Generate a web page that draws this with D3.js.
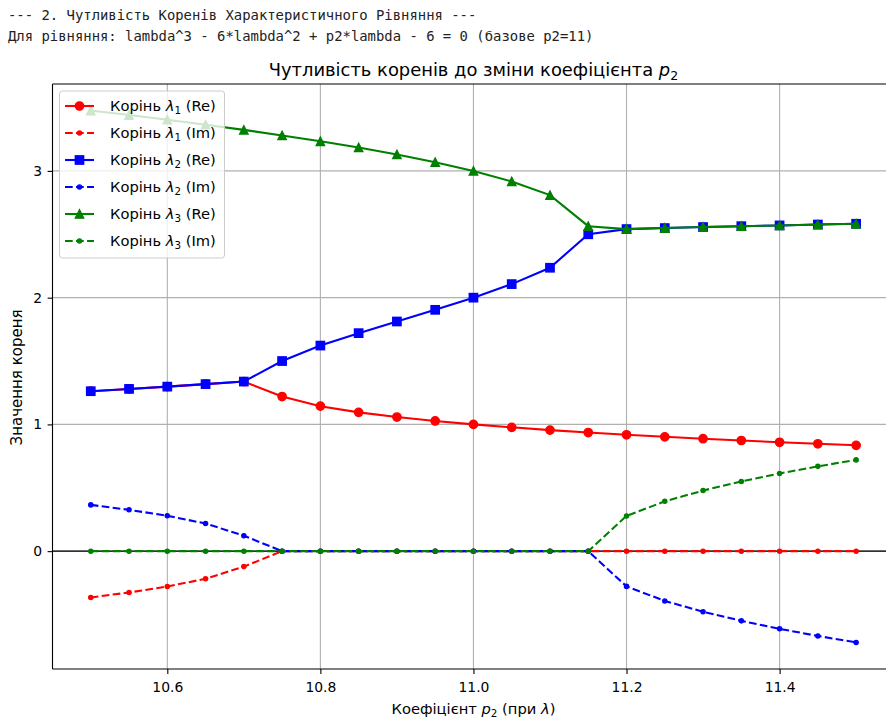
<!DOCTYPE html>
<html>
<head>
<meta charset="utf-8">
<script src="https://cdn.jsdelivr.net/npm/d3@7"></script>
<style>
body { margin: 0; background: #fff; }
svg { display: block; font-family: "DejaVu Sans", sans-serif; }
</style>
</head>
<body>
<div id="canvas-body"></div>
<script>
// values of p2 (x axis)
var p2 = [10.5, 10.55, 10.6, 10.65, 10.7, 10.75, 10.8, 10.85, 10.9, 10.95, 11.0,
          11.05, 11.1, 11.15, 11.2, 11.25, 11.3, 11.35, 11.4, 11.45, 11.5];

// root lambda_1
var re1 = [1.262, 1.280, 1.298, 1.318, 1.338, 1.22, 1.144, 1.095, 1.058, 1.027, 1.0,
           0.977, 0.955, 0.936, 0.918, 0.902, 0.887, 0.873, 0.859, 0.847, 0.835];
var im1 = [-0.365, -0.326, -0.279, -0.218, -0.122, 0, 0, 0, 0, 0, 0,
           0, 0, 0, 0, 0, 0, 0, 0, 0, 0];

// root lambda_2
var re2 = [1.262, 1.280, 1.298, 1.318, 1.338, 1.5, 1.622, 1.72, 1.812, 1.904, 2.0,
           2.107, 2.236, 2.50, 2.541, 2.549, 2.557, 2.564, 2.570, 2.577, 2.583];
var im2 = [0.365, 0.326, 0.279, 0.218, 0.122, 0, 0, 0, 0, 0, 0,
           0, 0, 0, -0.278, -0.393, -0.478, -0.550, -0.613, -0.669, -0.720];

// root lambda_3
var re3 = [3.476, 3.441, 3.404, 3.365, 3.324, 3.28, 3.234, 3.185, 3.130, 3.069, 3.0,
           2.917, 2.809, 2.564, 2.541, 2.549, 2.557, 2.564, 2.570, 2.577, 2.583];
var im3 = [0, 0, 0, 0, 0, 0, 0, 0, 0, 0, 0,
           0, 0, 0, 0.278, 0.393, 0.478, 0.550, 0.613, 0.669, 0.720];

// tick labels
var xTicks = [10.6, 10.8, 11.0, 11.2, 11.4];
var yTicks = [0, 1, 2, 3];

// series in plotting order
var series = [
    {vals: re1, color: "#ff0000", marker: "o", dashed: false, sub: "1", part: "Re"},
    {vals: im1, color: "#ff0000", marker: ".", dashed: true,  sub: "1", part: "Im"},
    {vals: re2, color: "#0000ff", marker: "s", dashed: false, sub: "2", part: "Re"},
    {vals: im2, color: "#0000ff", marker: ".", dashed: true,  sub: "2", part: "Im"},
    {vals: re3, color: "#008000", marker: "^", dashed: false, sub: "3", part: "Re"},
    {vals: im3, color: "#008000", marker: ".", dashed: true,  sub: "3", part: "Im"}
];

const W = 886, H = 720;
const axL = 52.5, axR = 894.4, axT = 84, axB = 669;

var svg = d3.select("#canvas-body").append("svg")
    .attr("width", W).attr("height", H);

// printed header lines
var header = ["--- 2. Чутливість Коренів Характеристичного Рівняння ---",
              "Для рівняння: lambda^3 - 6*lambda^2 + p2*lambda - 6 = 0 (базове p2=11)"];
svg.selectAll(".hdr").data(header).enter().append("text")
    .attr("x", 8)
    .attr("y", function(d, i){ return 20 + i * 21; })
    .attr("font-family", "'DejaVu Sans Mono', monospace")
    .attr("font-size", "13.9px")
    .attr("fill", "#222")
    .style("white-space", "pre")
    .text(function(d){ return d; });

// scales (matplotlib-like 5% margins)
var allVals = [].concat(re1, im1, re2, im2, re3, im3);
var ymin = d3.min(allVals), ymax = d3.max(allVals);
var ypad = (ymax - ymin) * 0.05;
var x = d3.scaleLinear().domain([10.45, 11.55]).range([axL, axR]);
var y = d3.scaleLinear().domain([ymin - ypad, ymax + ypad]).range([axB, axT]);

// clip to axes
svg.append("clipPath").attr("id", "clip")
    .append("rect").attr("x", axL).attr("y", axT)
    .attr("width", axR - axL).attr("height", axB - axT);

// grid
var grid = svg.append("g");
grid.selectAll(".gx").data(xTicks).enter().append("line")
    .attr("x1", function(d){ return x(d); }).attr("x2", function(d){ return x(d); })
    .attr("y1", axT).attr("y2", axB)
    .attr("stroke", "#b0b0b0").attr("stroke-width", 1.1);
grid.selectAll(".gy").data(yTicks).enter().append("line")
    .attr("x1", axL).attr("x2", axR)
    .attr("y1", function(d){ return y(d); }).attr("y2", function(d){ return y(d); })
    .attr("stroke", "#b0b0b0").attr("stroke-width", 1.1);

// zero line
svg.append("line")
    .attr("x1", axL).attr("x2", axR)
    .attr("y1", y(0)).attr("y2", y(0))
    .attr("stroke", "#000").attr("stroke-width", 1.1);

// draw a marker symbol
function drawMarker(g, kind, cx, cy, color){
    if(kind === "o"){
        g.append("circle").attr("cx", cx).attr("cy", cy).attr("r", 4.17)
            .attr("fill", color).attr("stroke", color).attr("stroke-width", 1.39);
    } else if(kind === "s"){
        g.append("rect").attr("x", cx - 4.17).attr("y", cy - 4.17)
            .attr("width", 8.33).attr("height", 8.33)
            .attr("fill", color).attr("stroke", color).attr("stroke-width", 1.39);
    } else if(kind === "^"){
        var h = 4.17;
        g.append("path")
            .attr("d", "M" + cx + "," + (cy - h) + "L" + (cx - h) + "," + (cy + h) + "L" + (cx + h) + "," + (cy + h) + "Z")
            .attr("fill", color).attr("stroke", color).attr("stroke-width", 1.39)
            .attr("stroke-linejoin", "miter");
    } else {
        g.append("circle").attr("cx", cx).attr("cy", cy).attr("r", 2.08)
            .attr("fill", color).attr("stroke", color).attr("stroke-width", 1.39);
    }
}

// lines and markers
var plot = svg.append("g").attr("clip-path", "url(#clip)");
var linefunc = d3.line()
    .x(function(d, i){ return x(p2[i]); })
    .y(function(d){ return y(d); });
series.forEach(function(s){
    var g = plot.append("g");
    g.append("path")
        .attr("d", linefunc(s.vals))
        .attr("fill", "none")
        .attr("stroke", s.color)
        .attr("stroke-width", 2.08)
        .attr("stroke-dasharray", s.dashed ? "7.7,3.33" : null);
    s.vals.forEach(function(v, i){
        drawMarker(g, s.marker, x(p2[i]), y(v), s.color);
    });
});

// spines (right spine falls outside the picture)
var spine = svg.append("g").attr("stroke", "#000").attr("stroke-width", 1.1).attr("fill", "none");
spine.append("line").attr("x1", axL).attr("x2", axL).attr("y1", axT).attr("y2", axB);
spine.append("line").attr("x1", axL).attr("x2", axR).attr("y1", axB).attr("y2", axB);
spine.append("line").attr("x1", axL).attr("x2", axR).attr("y1", axT).attr("y2", axT);

// axes
var xaxis = svg.append("g")
    .attr("transform", "translate(0," + axB + ")")
    .call(d3.axisBottom(x).tickValues(xTicks).tickFormat(d3.format(".1f")).tickSize(4.9).tickPadding(8.5));
var yaxis = svg.append("g")
    .attr("transform", "translate(" + axL + ",0)")
    .call(d3.axisLeft(y).tickValues(yTicks).tickFormat(d3.format("d")).tickSize(4.9).tickPadding(5.5));
[xaxis, yaxis].forEach(function(a){
    a.select(".domain").remove();
    a.selectAll("line").attr("stroke", "#000").attr("stroke-width", 1.1);
    a.selectAll("text").attr("font-size", "13.9px").attr("font-family", "DejaVu Sans").attr("fill", "#000");
});

// title
var title = svg.append("text")
    .attr("x", (axL + axR) / 2).attr("y", 76)
    .attr("text-anchor", "middle").attr("font-size", "17.9px").attr("fill", "#000");
title.append("tspan").text("Чутливість коренів до зміни коефіцієнта ");
title.append("tspan").attr("font-style", "italic").text("p");
title.append("tspan").attr("font-size", "12.5px").attr("dy", 3.5).text("2");

// x label
var xl = svg.append("text")
    .attr("x", (axL + axR) / 2).attr("y", 714)
    .attr("text-anchor", "middle").attr("font-size", "14.7px").attr("fill", "#000");
xl.append("tspan").text("Коефіцієнт ");
xl.append("tspan").attr("font-style", "italic").text("p");
xl.append("tspan").attr("font-size", "10.3px").attr("dy", 2.5).text("2");
xl.append("tspan").attr("dy", -2.5).text(" (при ");
xl.append("tspan").attr("font-style", "italic").text("λ");
xl.append("tspan").text(")");

// y label
svg.append("text")
    .attr("transform", "translate(21.5," + 377.5 + ") rotate(-90)")
    .attr("text-anchor", "middle").attr("font-size", "15px").attr("fill", "#000")
    .text("Значення кореня");

// legend
var lg = svg.append("g");
lg.append("rect")
    .attr("x", 59.5).attr("y", 91).attr("width", 165).attr("height", 167)
    .attr("rx", 3).attr("fill", "#fff").attr("fill-opacity", 0.8)
    .attr("stroke", "#cccccc").attr("stroke-width", 1);
series.forEach(function(s, i){
    var ry = 106 + i * 27;
    lg.append("line")
        .attr("x1", 65).attr("x2", 94).attr("y1", ry).attr("y2", ry)
        .attr("stroke", s.color).attr("stroke-width", 2.08)
        .attr("stroke-dasharray", s.dashed ? "7.7,3.33" : null);
    drawMarker(lg, s.marker, 79.5, ry, s.color);
    var t = lg.append("text")
        .attr("x", 110).attr("y", ry + 5)
        .attr("font-size", "14.7px").attr("fill", "#000");
    t.append("tspan").text("Корінь ");
    t.append("tspan").attr("font-style", "italic").text("λ");
    t.append("tspan").attr("font-size", "10.3px").attr("dy", 3).text(s.sub);
    t.append("tspan").attr("dy", -3).text(" (" + s.part + ")");
});
</script>
</body>
</html>
